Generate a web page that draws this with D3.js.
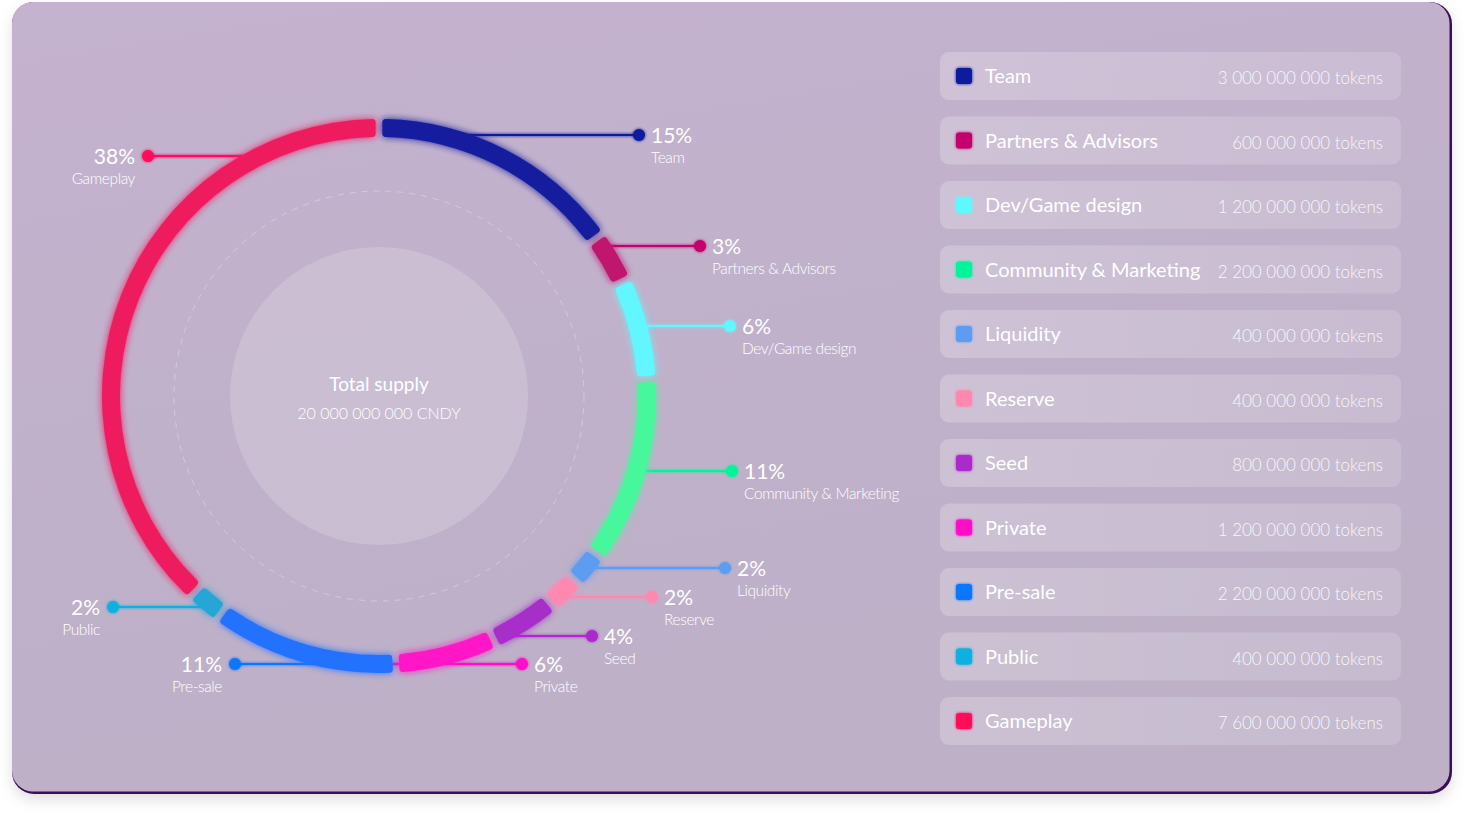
<!DOCTYPE html>
<html><head><meta charset="utf-8">
<script src="https://cdn.jsdelivr.net/npm/d3@7"></script>
<style>
html,body{margin:0;padding:0;background:#fff;}
svg{display:block;}
text{font-family:Lato,"Open Sans",sans-serif;fill:#fff;}
</style></head>
<body>
<svg id="chart" width="1464" height="817"></svg>
<script>
// ---- data ----
const categories = ["Team","Partners & Advisors","Dev/Game design","Community & Marketing","Liquidity","Reserve","Seed","Private","Pre-sale","Public","Gameplay"];
const tokens = [3000000000,600000000,1200000000,2200000000,400000000,400000000,800000000,1200000000,2200000000,400000000,7600000000];
const totalSupply = 20000000000;
const ticker = "CNDY";
const arcColors = ["#131c9e","#c0136e","#62f7ff","#47f79b","#5d9cf0","#ff88b0","#a82dca","#ff14c6","#2271ff","#27a6d6","#ee1c5e"];
const swatchColors = ["#0d1a9c","#c4056c","#5ef8ff","#00f59b","#5d9cf0","#ff88b0","#ab2acb","#ff0ac9","#0a76ff","#0ab0e0","#ff0a5a"];

// ---- layout (callout anchors) ----
const calloutY   = [135,246,326,471,568,597,636,664,664,607,156];
const calloutDot = [639,700,730,732,725,652,592,522,235,113,148];
const calloutSide= ["r","r","r","r","r","r","r","r","l","l","l"];

const W=1464,H=817;
const cx=379, cy=396, rIn=259, rOut=277, rMid=(rIn+rOut)/2;
const svg=d3.select("#chart");
const defs=svg.append("defs");

// filters
const sh=defs.append("filter").attr("id","cardShadow").attr("x","-5%").attr("y","-5%").attr("width","110%").attr("height","115%");
sh.append("feDropShadow").attr("dx",0).attr("dy",6).attr("stdDeviation",7).attr("flood-color","#000").attr("flood-opacity",0.12);
const glow=defs.append("filter").attr("id","glow").attr("x","-50%").attr("y","-50%").attr("width","200%").attr("height","200%");
glow.append("feGaussianBlur").attr("in","SourceGraphic").attr("stdDeviation",3.5).attr("result","b");
const gm=glow.append("feMerge"); gm.append("feMergeNode").attr("in","b"); gm.append("feMergeNode").attr("in","SourceGraphic");
const sglow=defs.append("filter").attr("id","sglow").attr("filterUnits","userSpaceOnUse")
  .attr("x",0).attr("y",0).attr("width",W).attr("height",H);
sglow.append("feGaussianBlur").attr("in","SourceGraphic").attr("stdDeviation",1.5).attr("result","b");
const sm=sglow.append("feMerge"); sm.append("feMergeNode").attr("in","b"); sm.append("feMergeNode").attr("in","SourceGraphic");

const cardGrad=defs.append("linearGradient").attr("id","cardGrad").attr("x1","0").attr("y1","0").attr("x2","0.3").attr("y2","1");
cardGrad.append("stop").attr("offset","0").attr("stop-color","#c4b2ce");
cardGrad.append("stop").attr("offset","1").attr("stop-color","#bdb0c7");
const rowGrad=defs.append("linearGradient").attr("id","rowGrad").attr("x1","0").attr("y1","0").attr("x2","1").attr("y2","0");
rowGrad.append("stop").attr("offset","0").attr("stop-color","#fff").attr("stop-opacity",0.22);
rowGrad.append("stop").attr("offset","1").attr("stop-color","#fff").attr("stop-opacity",0.14);

// card
svg.append("rect").attr("x",12).attr("y",2).attr("width",1440).attr("height",792).attr("rx",22)
  .attr("fill","#3e0a5c").attr("filter","url(#cardShadow)");
svg.append("rect").attr("x",12).attr("y",2).attr("width",1437.5).attr("height",789.5).attr("rx",21)
  .attr("fill","url(#cardGrad)");

// inner decorations
svg.append("circle").attr("cx",cx).attr("cy",cy).attr("r",205).attr("fill","none")
  .attr("stroke","#fff").attr("stroke-opacity",0.3).attr("stroke-width",1).attr("stroke-dasharray","6 6");
svg.append("circle").attr("cx",cx).attr("cy",cy).attr("r",149).attr("fill","#fff").attr("fill-opacity",0.17);

svg.append("text").attr("x",cx).attr("y",391).attr("text-anchor","middle").attr("font-size",19).attr("font-weight",400).text("Total supply");
const fmt=d3.formatLocale({decimal:".",thousands:" ",grouping:[3],currency:["",""]}).format(",");
svg.append("text").attr("x",cx).attr("y",419).attr("text-anchor","middle").attr("font-size",16).attr("font-weight",300).text(fmt(totalSupply)+" "+ticker);

const data=categories.map((c,i)=>({name:c,tokens:tokens[i],pct:Math.round(tokens[i]/totalSupply*100),arcColor:arcColors[i],swatch:swatchColors[i],ly:calloutY[i],dx:calloutDot[i],side:calloutSide[i]}));

const pie=d3.pie().sort(null).value(d=>d.tokens);
const arcs=pie(data);
const arcGen=d3.arc().innerRadius(rIn).outerRadius(rOut).cornerRadius(3.5).padAngle(0.025).padRadius(rMid);

// callout lines & dots
const cg=svg.append("g");
data.forEach(d=>{
  const dyv=d.ly-cy;
  const ddx=Math.sqrt(Math.max(0,rMid*rMid-dyv*dyv));
  const x0= d.side==="r"? cx+ddx : cx-ddx;
  cg.append("path").attr("d",`M${x0},${d.ly}H${d.dx}`)
    .attr("stroke",d.swatch).attr("stroke-width",2).attr("fill","none").attr("filter","url(#sglow)");
  cg.append("circle").attr("cx",d.dx).attr("cy",d.ly).attr("r",6).attr("fill",d.swatch).attr("filter","url(#sglow)");
  const right=d.side==="r";
  const tx= right? d.dx+12 : d.dx-13;
  cg.append("text").attr("x",tx).attr("y",d.ly+8).attr("text-anchor",right?"start":"end")
    .attr("font-size",21).attr("font-weight",400).text(d.pct+"%");
  cg.append("text").attr("x",tx).attr("y",d.ly+28).attr("text-anchor",right?"start":"end")
    .attr("font-size",15.5).attr("font-weight",300).attr("letter-spacing",-0.4).text(d.name);
});

// arcs
svg.append("g").attr("transform",`translate(${cx},${cy})`).selectAll("path").data(arcs).join("path")
  .attr("d",arcGen).attr("fill",d=>d.data.arcColor).attr("filter","url(#glow)");

// legend
const lx=940, lw=461, lh=48;
const ly=d3.scalePoint().domain(categories).range([52,697]);
const lg=svg.append("g");
data.forEach(d=>{
  const y=ly(d.name);
  const g=lg.append("g").attr("transform",`translate(${lx},${y})`);
  g.append("rect").attr("width",lw).attr("height",lh).attr("rx",9).attr("fill","url(#rowGrad)");
  g.append("rect").attr("x",16).attr("y",16).attr("width",16).attr("height",16).attr("rx",3).attr("fill",d.swatch).attr("filter","url(#sglow)");
  g.append("text").attr("x",45).attr("y",31).attr("font-size",20).attr("font-weight",400).text(d.name);
  g.append("text").attr("x",443).attr("y",32).attr("text-anchor","end").attr("font-size",17).attr("font-weight",300).attr("fill-opacity",0.9).text(fmt(d.tokens)+" tokens");
});
</script>
</body></html>
